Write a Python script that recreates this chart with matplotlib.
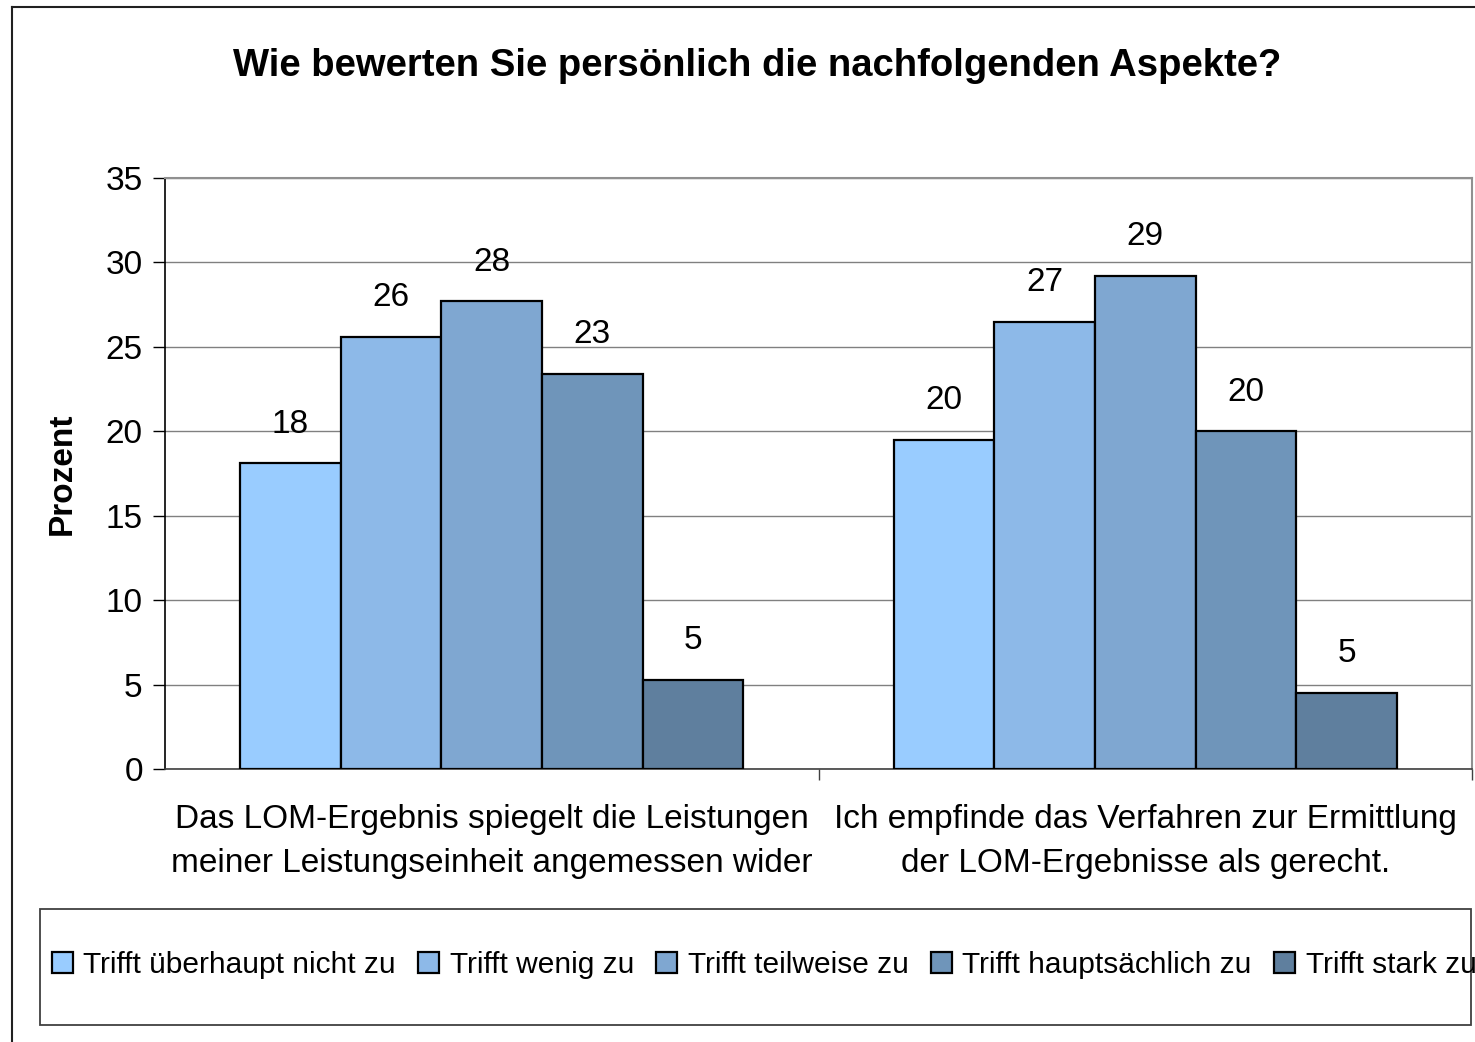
import matplotlib
matplotlib.use("Agg")
import matplotlib.pyplot as plt
from matplotlib.patches import Rectangle, Patch
from matplotlib.lines import Line2D
import numpy as np

plt.rcParams['font.family'] = ['Liberation Sans', 'DejaVu Sans']

title = "Wie bewerten Sie persönlich die nachfolgenden Aspekte?"
categories = ["Das LOM-Ergebnis spiegelt die Leistungen\nmeiner Leistungseinheit angemessen wider",
              "Ich empfinde das Verfahren zur Ermittlung\nder LOM-Ergebnisse als gerecht."]
series_names = ["Trifft überhaupt nicht zu", "Trifft wenig zu", "Trifft teilweise zu",
                "Trifft hauptsächlich zu", "Trifft stark zu"]
values = [
    [18.1, 19.5],
    [25.6, 26.5],
    [27.7, 29.2],
    [23.4, 20.0],
    [5.3, 4.5],
]
labels = [
    ["18", "20"],
    ["26", "27"],
    ["28", "29"],
    ["23", "20"],
    ["5", "5"],
]
colors = ["#99CCFF", "#8DB9E8", "#7FA7D1", "#6F95BA", "#5F7F9E"]
yticks = [0, 5, 10, 15, 20, 25, 30, 35]

W, H = 1475, 1042
fig = plt.figure(figsize=(W / 100, H / 100), dpi=100)
ax = fig.add_axes([165 / W, 1 - 769 / H, (1472 - 165) / W, (769 - 178) / H])

n = len(series_names)
group_w = 0.77
bw = group_w / n
x = np.arange(len(categories))
for i in range(n):
    pos = x - group_w / 2 + bw * (i + 0.5)
    ax.bar(pos, values[i], width=bw, color=colors[i], edgecolor="black",
           linewidth=1.6, zorder=3)
    for xp, v, lab in zip(pos, values[i], labels[i]):
        ax.text(xp, v + 1.4, lab, ha="center", va="bottom", fontsize=24, zorder=4)

ax.set_xlim(-0.5, 1.5)
ax.set_ylim(0, 35)
ax.set_yticks(yticks)
ax.set_yticklabels([str(t) for t in yticks], fontsize=24)
ax.yaxis.grid(True, color="#808080", linewidth=1.0, zorder=0)
ax.set_axisbelow(True)

ax.set_xticks(x)
ax.set_xticklabels(categories, fontsize=24, linespacing=1.55)
ax.tick_params(axis="x", which="major", length=0, pad=25)
ax.set_xticks([0.5, 1.5], minor=True)
ax.tick_params(axis="x", which="minor", length=8, width=1, color="#404040")
ax.tick_params(axis="y", length=9, width=1, pad=7, color="black")

for s in ["top", "right"]:
    ax.spines[s].set_color("#909090")
    ax.spines[s].set_linewidth(1.5)
ax.spines["left"].set_color("black")
ax.spines["bottom"].set_color("#404040")
ax.spines["left"].set_linewidth(1.2)
ax.spines["bottom"].set_linewidth(1.2)

ax.set_ylabel("Prozent", fontsize=24, fontweight="bold", labelpad=20)

fig.text(757 / W, 1 - 66 / H, title, ha="center", va="center",
         fontsize=27.5, fontweight="bold")

# outer chart border (partially visible)
fig.add_artist(Line2D([12 / W, 1.0], [1 - 7 / H, 1 - 7 / H], color="#202020", linewidth=1.5))
fig.add_artist(Line2D([12 / W, 12 / W], [0, 1 - 7 / H], color="#202020", linewidth=1.5))

# legend box
fig.add_artist(Rectangle((40 / W, 1 - 1025 / H), (1471 - 40) / W, (1025 - 909) / H,
                         transform=fig.transFigure, fill=False, edgecolor="#404040",
                         linewidth=1.3))
handles = [Patch(facecolor=c, edgecolor="black", linewidth=1.6) for c in colors]
fig.legend(handles, series_names, loc="center left", ncol=5,
           bbox_to_anchor=(43 / W, 1 - 965 / H), frameon=False, fontsize=21.5,
           handlelength=0.7, handleheight=0.7, handletextpad=0.35,
           columnspacing=0.75, borderaxespad=0, borderpad=0.3)

fig.savefig("out.png", dpi=100)
